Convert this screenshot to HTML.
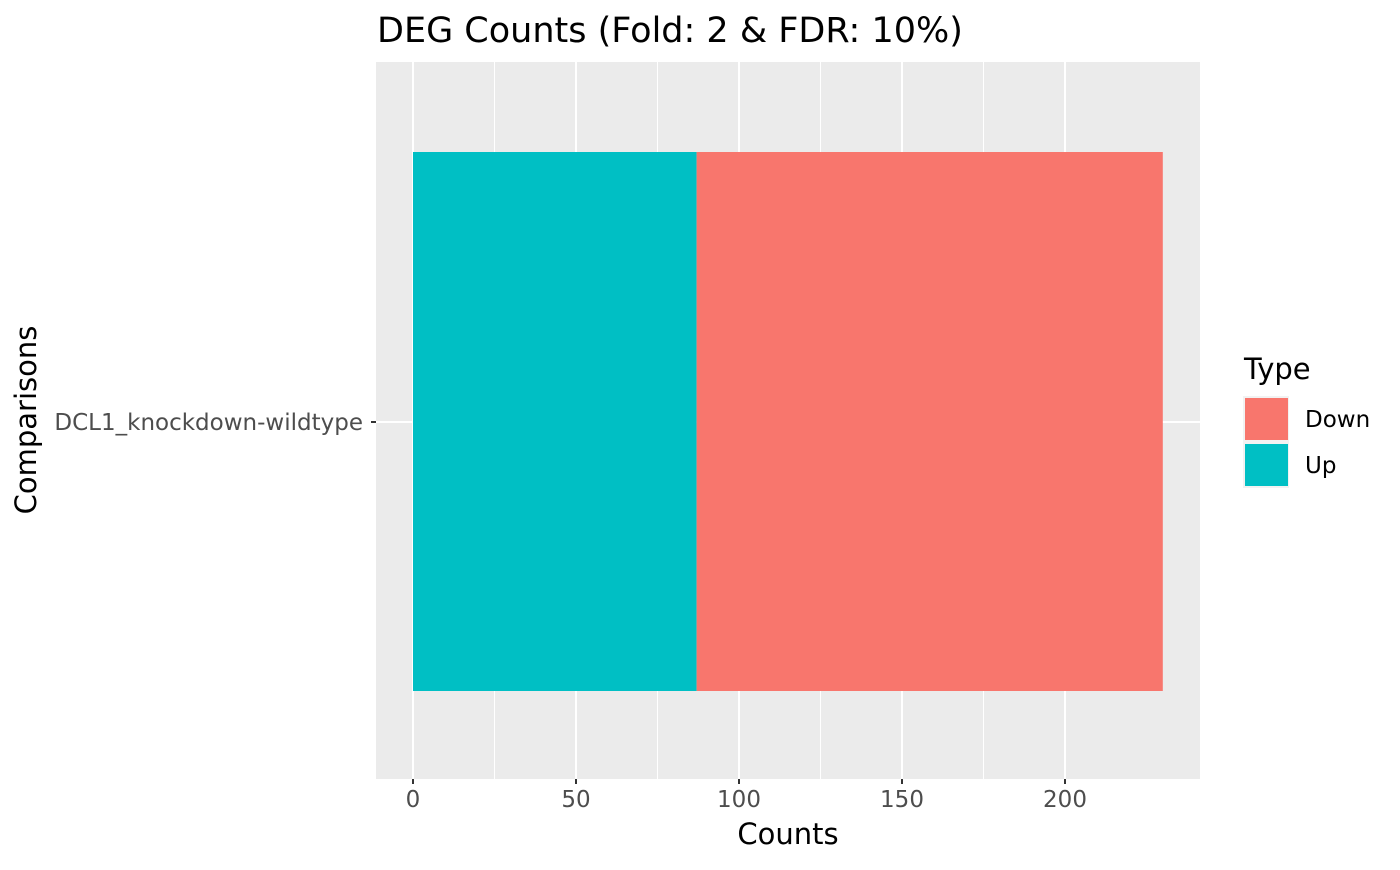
<!DOCTYPE html>
<html><head><meta charset="utf-8"><style>
body{margin:0;background:#fff}
svg text{font-family:"DejaVu Sans","Liberation Sans",sans-serif}
</style></head><body>
<svg id="c" width="1400" height="865"></svg>
<script>
const categories=["DCL1_knockdown-wildtype"];
const upValues=[87];
const downValues=[143];
const xTicks=[0,50,100,150,200];
const NS="http://www.w3.org/2000/svg";
const svg=document.getElementById('c');
function mk(t,a,txt){const e=document.createElementNS(NS,t);for(const k in a)e.setAttribute(k,a[k]);if(txt!==undefined)e.textContent=txt;svg.appendChild(e);return e;}
const PL=376,PR=1200,PT=62,PB=779;
const x=v=>413+v*3.26;
const y=i=>422;
let e=mk('rect',{x:PL,y:PT,width:PR-PL,height:PB-PT,fill:'#ebebeb'});


for(let i=0;i<xTicks.length-1;i++){const m=(xTicks[i]+xTicks[i+1])/2;
 e=mk('line',{x1:x(m),x2:x(m),y1:PT,y2:PB,stroke:'#fff','stroke-width':1});
 
 }
xTicks.forEach(t=>{
 e=mk('line',{x1:x(t),x2:x(t),y1:PT,y2:PB,stroke:'#fff','stroke-width':2});
 
 
 e=mk('line',{x1:x(t),x2:x(t),y1:PB,y2:PB+5,stroke:'#333','stroke-width':2});
 
 
 e=mk('text',{x:x(t),y:PB+28,'text-anchor':'middle','font-size':23,fill:'#4d4d4d'},t);
 
 
});
categories.forEach((c,i)=>{
 const cy=y(i);
 e=mk('line',{x1:PL,x2:PR,y1:cy,y2:cy,stroke:'#fff','stroke-width':2});
 
 
 e=mk('rect',{x:x(0),y:cy-270,width:x(upValues[i])-x(0),height:539,fill:'#00bfc4'});
 
 
 e=mk('rect',{x:x(upValues[i]),y:cy-270,width:x(upValues[i]+downValues[i])-x(upValues[i]),height:539,fill:'#f8766d'});
 
 
 e=mk('line',{x1:PL-5,x2:PL,y1:cy,y2:cy,stroke:'#333','stroke-width':2});
 
 
 e=mk('text',{x:PL-13,y:cy+8,'text-anchor':'end','font-size':23,fill:'#4d4d4d'},c);
 
 
});
e=mk('text',{x:377,y:42,'font-size':35,fill:'#000'},'DEG Counts (Fold: 2 & FDR: 10%)');


e=mk('text',{x:788,y:844,'text-anchor':'middle','font-size':29,fill:'#000'},'Counts');


e=mk('text',{x:36,y:420,'text-anchor':'middle','font-size':29,fill:'#000',transform:'rotate(-90 36 420)'},'Comparisons');


e=mk('text',{x:1244,y:379,'font-size':29,fill:'#000'},'Type');


[['Down','#f8766d',398],['Up','#00bfc4',444]].forEach(([n,col,ty])=>{
 e=mk('rect',{x:1243,y:ty-2,width:46,height:46,fill:'#f2f2f2'});
 
 
 e=mk('rect',{x:1245,y:ty,width:43,height:42,fill:col});
 
 
 e=mk('text',{x:1305,y:ty+29,'font-size':23,fill:'#000'},n);
 
 
});
</script>
</body></html>
